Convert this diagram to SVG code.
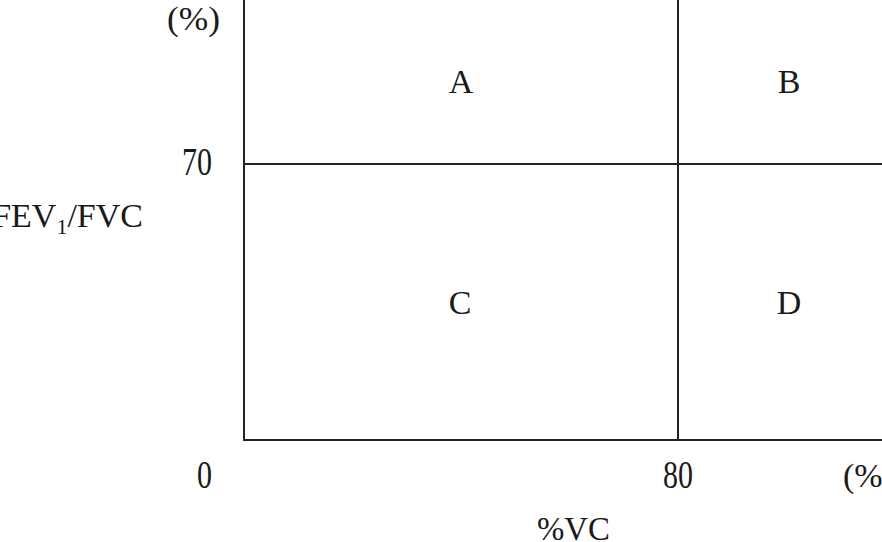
<svg xmlns="http://www.w3.org/2000/svg" width="882" height="542" viewBox="0 0 882 542">
<style>
.t{font-family:"Liberation Serif","Noto Serif CJK SC","Noto Sans CJK SC",serif;font-size:34px;fill:#1a1a1a}
.n{font-family:"Liberation Serif","Noto Serif CJK SC","Noto Sans CJK SC",serif;font-size:39px;fill:#1a1a1a}
.l{stroke:#222;stroke-width:2;fill:none}
</style>
<rect width="882" height="542" fill="#fff"/>
<g id="connectors">
<path class="l" d="M244,0 V440 H882"/>
<path class="l" d="M244,164 H882"/>
<path class="l" d="M678,0 V440"/>
</g>
<g id="labels">
<text class="t" x="167" y="30" textLength="53" lengthAdjust="spacingAndGlyphs">(%)</text>
<text class="n" x="182" y="175" textLength="30" lengthAdjust="spacingAndGlyphs">70</text>
<text class="t" x="143" y="227" text-anchor="end">FEV<tspan font-size="22" dy="7">1</tspan><tspan dy="-7">/FVC</tspan></text>
<text class="n" x="197" y="488" textLength="15" lengthAdjust="spacingAndGlyphs">0</text>
<text class="n" x="663" y="488" textLength="30" lengthAdjust="spacingAndGlyphs">80</text>
<text class="t" x="843" y="487">(%)</text>
<text class="t" x="537" y="540" textLength="73" lengthAdjust="spacingAndGlyphs">%VC</text>
</g>
<g id="A"><text class="t" x="461" y="93" text-anchor="middle">A</text></g>
<g id="B"><text class="t" x="789" y="93" text-anchor="middle">B</text></g>
<g id="C"><text class="t" x="460" y="314" text-anchor="middle">C</text></g>
<g id="D"><text class="t" x="789" y="314" text-anchor="middle">D</text></g>
</svg>
